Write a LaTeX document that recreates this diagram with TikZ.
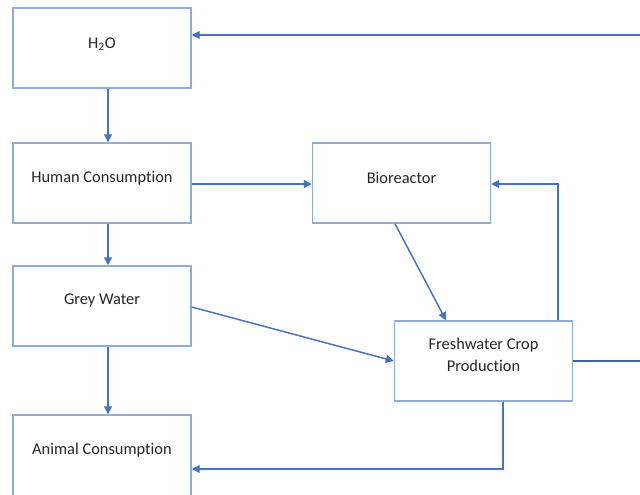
\documentclass[tikz,border=0pt]{standalone}
\usepackage{fontspec}
\setmainfont[Ligatures={NoCommon,NoDiscretionary}]{Carlito}
\usetikzlibrary{arrows.meta}
\definecolor{boxline}{HTML}{8FAADC}
\definecolor{flow}{HTML}{4472C4}
\definecolor{outflow}{HTML}{44609E}
\begin{document}
\begin{tikzpicture}[x=0.75pt,y=-0.75pt,
  stage/.style={draw=boxline, line width=1.1pt, fill=white, minimum width=133.5pt, minimum height=60pt,
    inner sep=0pt},
  caption/.style={font=\fontsize{12.3}{16.5}\selectfont, text=black!85, align=center, inner sep=0pt},
  link/.style={draw=flow, line width=1.1pt, -{Triangle[length=6pt,width=6pt]}}]
\useasboundingbox (0,0) rectangle (640,494);
% process stages (text sits a little above the box centre)
\node[stage] (h2o)    at (102,48)    {};
\node[caption] (h2otext) at (102,44) {H\textsubscript{2}O};
\node[stage] (human)  at (102,183)   {};
\node[caption] (humantext) at (102,178) {Human Consumption};
\node[stage] (grey)   at (102,306)   {};
\node[caption] (greytext) at (102,300) {Grey Water};
\node[stage, minimum height=66pt] (animal) at (102,459) {};
\node[caption] (animaltext) at (102,450) {Animal Consumption};
\node[stage] (bio)    at (401.5,183) {};
\node[caption] (biotext) at (401.5,178) {Bioreactor};
\node[stage] (crop)   at (483.5,361) {};
\node[caption] (croptext) at (483.5,355) {Freshwater Crop\\Production};
% free ends at the page edge
\coordinate (inlet)  at (640,35);
\coordinate (outlet) at (640,361);
% connectors
\draw[link] (inlet) -- (h2o.east |- inlet);
\draw[link] (h2o.south -| 108,0) -- (human.north -| 108,0);
\draw[link] (human.east |- 0,184) -- (bio.west |- 0,184);
\draw[link] (human.south -| 108,0) -- (grey.north -| 108,0);
\draw[link] (grey.east |- 0,307) -- (crop.west |- 0,361);
\draw[link] (bio.south -| 395,0) -- (crop.north -| 446,0);
\draw[link] (crop.north -| 558,0) |- (bio.east |- 0,184);
\draw[link] (crop.south -| 503,0) |- (animal.east |- 0,469);
\draw[link] (grey.south -| 108,0) -- (animal.north -| 108,0);
\draw[draw=outflow, line width=1pt] (crop.east) -- (outlet);
\end{tikzpicture}
\end{document}
